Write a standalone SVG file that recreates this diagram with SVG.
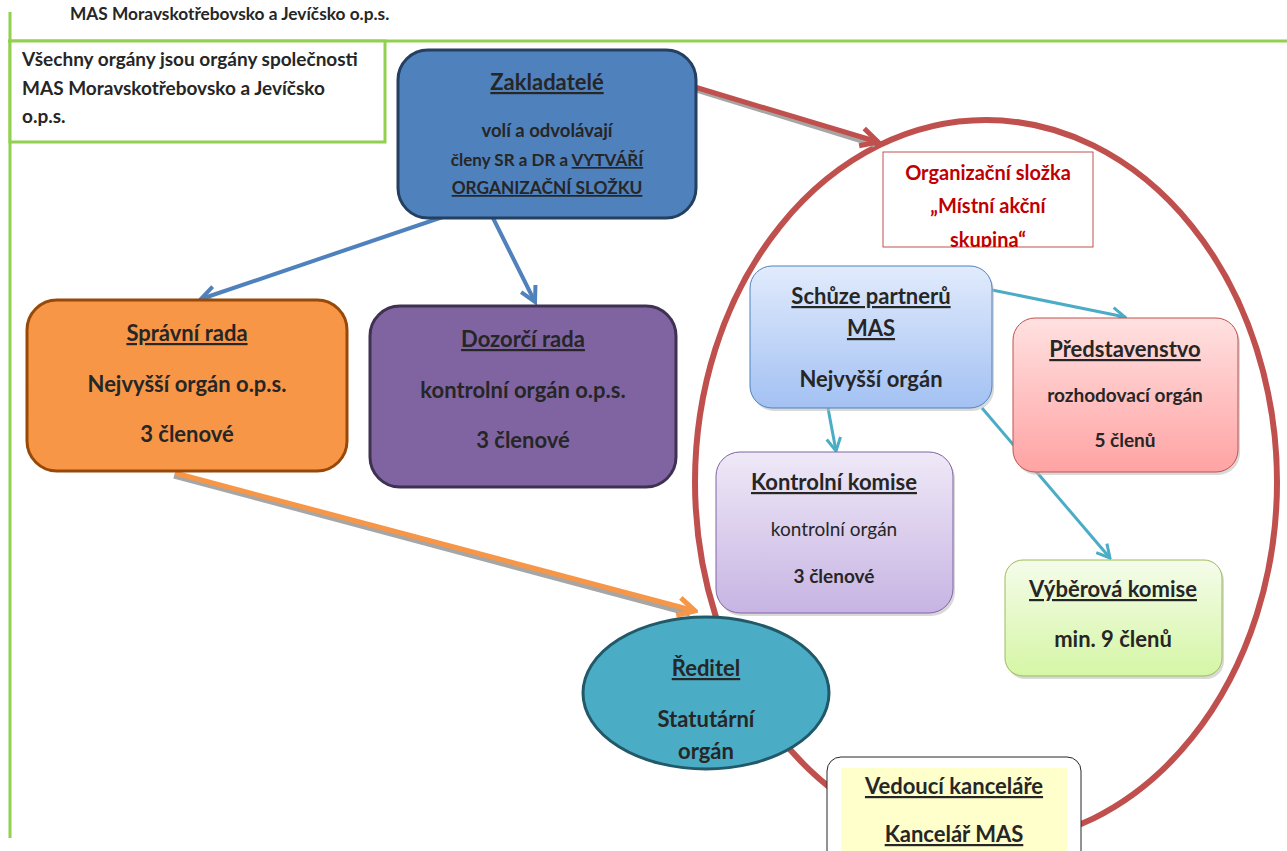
<svg xmlns="http://www.w3.org/2000/svg" width="1287" height="851" viewBox="0 0 1287 851">
<style>
text{font-family:Lato,"Noto Sans","Liberation Sans",sans-serif;font-weight:bold;fill:#262626;text-anchor:middle}
.u{text-decoration:underline}
.h{font-size:22px}
.b{font-size:22px}
.s{font-size:19px}
.reg{font-weight:normal}
.green{stroke:#92D050;stroke-width:3;fill:none}
.sh{stroke:#A6A6A6;fill:none}
.bs{fill:#BFBFBF;opacity:0.6}
</style>
<defs>
<linearGradient id="gBlue" x1="0" y1="0" x2="0" y2="1"><stop offset="0" stop-color="#E1EBFC"/><stop offset="1" stop-color="#A3C1F3"/></linearGradient>
<linearGradient id="gPink" x1="0" y1="0" x2="0" y2="1"><stop offset="0" stop-color="#FFE1E1"/><stop offset="1" stop-color="#FFA3A3"/></linearGradient>
<linearGradient id="gLav" x1="0" y1="0" x2="0" y2="1"><stop offset="0" stop-color="#EFE9F7"/><stop offset="1" stop-color="#C7B4E3"/></linearGradient>
<linearGradient id="gGreen" x1="0" y1="0" x2="0" y2="1"><stop offset="0" stop-color="#F5FCEA"/><stop offset="1" stop-color="#D5F6A5"/></linearGradient>
<marker id="aRed" markerUnits="userSpaceOnUse" viewBox="0 0 24 24" refX="21" refY="12" markerWidth="24" markerHeight="24" orient="auto"><path d="M4,3 L21,12 L4,21" fill="none" stroke="#C0504D" stroke-width="5"/></marker>
<marker id="aBlue" markerUnits="userSpaceOnUse" viewBox="0 0 22 22" refX="19" refY="11" markerWidth="22" markerHeight="22" orient="auto"><path d="M4,3 L19,11 L4,19" fill="none" stroke="#4F81BD" stroke-width="4"/></marker>
<marker id="aOrange" markerUnits="userSpaceOnUse" viewBox="0 0 24 24" refX="21" refY="12" markerWidth="24" markerHeight="24" orient="auto"><path d="M4,3 L21,12 L4,21" fill="none" stroke="#F79646" stroke-width="5"/></marker>
<marker id="aTeal" markerUnits="userSpaceOnUse" viewBox="0 0 18 18" refX="16" refY="9" markerWidth="18" markerHeight="18" orient="auto"><path d="M3,2 L16,9 L3,16" fill="none" stroke="#4BACC6" stroke-width="3"/></marker>
<clipPath id="cOrg"><rect x="883" y="152" width="210" height="95"/></clipPath>
</defs>
<rect width="1287" height="851" fill="#FFFFFF"/>

<g id="frame">
<line class="green" x1="10" y1="12" x2="10" y2="838"/>
<line class="green" x1="8" y1="41" x2="1287" y2="41"/>
<text x="70" y="20" style="font-size:17.3px;text-anchor:start">MAS Moravskotřebovsko a Jevíčsko o.p.s.</text>
</g>

<g id="note">
<rect x="10" y="41" width="375" height="101" fill="#FFFFFF" stroke="#92D050" stroke-width="3"/>
<text x="22" y="66" class="s" style="text-anchor:start">Všechny orgány jsou orgány společnosti</text>
<text x="22" y="95" class="s" style="text-anchor:start">MAS Moravskotřebovsko a Jevíčsko</text>
<text x="22" y="123" class="s" style="text-anchor:start">o.p.s.</text>
</g>

<g id="mas-ellipse">
<ellipse cx="986" cy="482" rx="291" ry="362" fill="none" stroke="#C0504D" stroke-width="6"/>
</g>

<g id="connectors">
<line class="sh" x1="690" y1="88" x2="875" y2="145" stroke-width="5"/>
<line x1="688" y1="85" x2="878" y2="142" stroke="#C0504D" stroke-width="5" marker-end="url(#aRed)"/>
<line x1="484" y1="203" x2="201" y2="299" stroke="#4F81BD" stroke-width="4" marker-end="url(#aBlue)"/>
<line x1="486" y1="204" x2="535" y2="302" stroke="#4F81BD" stroke-width="4" marker-end="url(#aBlue)"/>
<line class="sh" x1="174" y1="476" x2="690" y2="614" stroke-width="5"/>
<line x1="175" y1="473" x2="695" y2="611" stroke="#F79646" stroke-width="5" marker-end="url(#aOrange)"/>
<line x1="992" y1="290" x2="1125" y2="317" stroke="#4BACC6" stroke-width="3" marker-end="url(#aTeal)"/>
<line x1="828" y1="408" x2="836" y2="451" stroke="#4BACC6" stroke-width="3" marker-end="url(#aTeal)"/>
<line x1="982" y1="408" x2="1110" y2="558" stroke="#4BACC6" stroke-width="3" marker-end="url(#aTeal)"/>
</g>

<g id="zakladatele">
<rect x="398" y="50" width="298" height="168" rx="30" fill="#4F81BD" stroke="#243F60" stroke-width="3"/>
<text x="547" y="90" class="h u">Zakladatelé</text>
<text x="547" y="137" style="font-size:18.5px">volí a odvolávají</text>
<text x="547" y="166" style="font-size:17px">členy SR a DR a <tspan class="u">VYTVÁŘÍ</tspan></text>
<text x="547" y="194" class="u" style="font-size:17.3px">ORGANIZAČNÍ SLOŽKU</text>
</g>

<g id="organizacni-slozka">
<rect x="883" y="152" width="210" height="95" fill="#FFFFFF" stroke="#C0504D" stroke-width="1"/>
<g clip-path="url(#cOrg)">
<text x="988" y="180" style="fill:#C00000;font-size:20px">Organizační složka</text>
<text x="988" y="213" style="fill:#C00000;font-size:20px">„Místní akční</text>
<text x="988" y="247" style="fill:#C00000;font-size:20px">skupina“</text>
</g>
</g>

<g id="spravni-rada">
<rect x="27" y="300" width="320" height="171" rx="30" fill="#F79646" stroke="#984807" stroke-width="3"/>
<text x="187" y="341" class="h u">Správní rada</text>
<text x="187" y="392" class="b">Nejvyšší orgán o.p.s.</text>
<text x="187" y="442" class="b">3 členové</text>
</g>

<g id="dozorci-rada">
<rect x="370" y="306" width="306" height="181" rx="30" fill="#8064A2" stroke="#3F3151" stroke-width="3"/>
<text x="523" y="347" class="h u">Dozorčí rada</text>
<text x="523" y="398" class="b">kontrolní orgán o.p.s.</text>
<text x="523" y="448" class="b">3 členové</text>
</g>

<g id="schuze-partneru">
<rect class="bs" x="752" y="269" width="242" height="142" rx="22"/>
<rect x="750" y="266" width="242" height="142" rx="22" fill="url(#gBlue)" stroke="#4F81BD" stroke-width="1"/>
<text x="871" y="304" class="h u">Schůze partnerů</text>
<text x="871" y="336" class="h u">MAS</text>
<text x="871" y="387" class="b">Nejvyšší orgán</text>
</g>

<g id="predstavenstvo">
<rect class="bs" x="1015" y="321" width="225" height="154" rx="22"/>
<rect x="1013" y="318" width="225" height="154" rx="22" fill="url(#gPink)" stroke="#C0504D" stroke-width="1"/>
<text x="1125" y="357" class="h u">Představenstvo</text>
<text x="1125" y="402" class="s">rozhodovací orgán</text>
<text x="1125" y="447" class="s">5 členů</text>
</g>

<g id="kontrolni-komise">
<rect class="bs" x="718" y="455" width="237" height="161" rx="24"/>
<rect x="716" y="452" width="237" height="161" rx="24" fill="url(#gLav)" stroke="#8064A2" stroke-width="1"/>
<text x="834" y="490" class="h u">Kontrolní komise</text>
<text x="834" y="536" class="s reg">kontrolní orgán</text>
<text x="834" y="583" class="s">3 členové</text>
</g>

<g id="vyberova-komise">
<rect class="bs" x="1007" y="563" width="217" height="116" rx="18"/>
<rect x="1005" y="560" width="217" height="116" rx="18" fill="url(#gGreen)" stroke="#9BBB59" stroke-width="1"/>
<text x="1113" y="597" class="h u">Výběrová komise</text>
<text x="1113" y="647" class="b">min. 9 členů</text>
</g>

<g id="reditel">
<ellipse cx="706" cy="693" rx="123" ry="76" fill="#4BACC6" stroke="#215968" stroke-width="3"/>
<text x="706" y="676" class="h u">Ředitel</text>
<text x="706" y="727" class="b">Statutární</text>
<text x="706" y="759" class="b">orgán</text>
</g>

<g id="kancelar">
<rect x="827" y="757" width="254" height="110" rx="14" fill="#FFFFFF" stroke="#262626" stroke-width="1"/>
<rect x="841" y="768" width="226" height="83" fill="#FFFFCC"/>
<text x="954" y="794" class="h u">Vedoucí kanceláře</text>
<text x="954" y="842" class="h u">Kancelář MAS</text>
</g>
</svg>
